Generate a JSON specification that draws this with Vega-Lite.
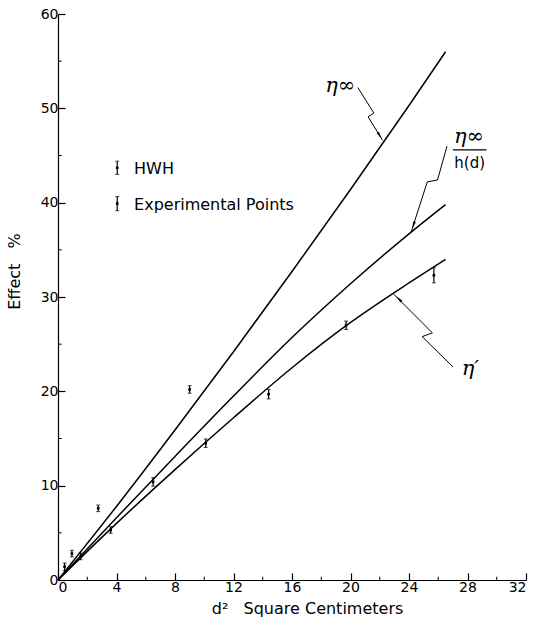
{
  "$schema": "https://vega.github.io/schema/vega-lite/v6.json",
  "width": 468,
  "height": 566,
  "autosize": {"type": "none"},
  "padding": {"left": 58, "top": 14, "right": 9, "bottom": 42},
  "background": "white",
  "config": {
    "view": {"stroke": null},
    "font": "DejaVu Sans",
    "axis": {
      "domainColor": "black",
      "domainWidth": 1.2,
      "tickColor": "black",
      "tickWidth": 1.2,
      "tickSize": -7,
      "labelColor": "black",
      "labelFont": "DejaVu Sans",
      "labelFontSize": 14,
      "titleColor": "black",
      "titleFont": "DejaVu Sans",
      "titleFontSize": 16,
      "titleFontWeight": "normal",
      "grid": false
    }
  },
  "datasets": {
    "curves": [
      {"curve": "eta_inf", "d2": 0, "effect": 0},
      {"curve": "eta_inf", "d2": 4, "effect": 7.8},
      {"curve": "eta_inf", "d2": 8, "effect": 15.9},
      {"curve": "eta_inf", "d2": 12, "effect": 24.2},
      {"curve": "eta_inf", "d2": 16, "effect": 32.7},
      {"curve": "eta_inf", "d2": 20, "effect": 41.4},
      {"curve": "eta_inf", "d2": 24, "effect": 50.3},
      {"curve": "eta_inf", "d2": 26.5, "effect": 56.0},
      {"curve": "eta_h", "d2": 0, "effect": 0},
      {"curve": "eta_h", "d2": 4, "effect": 6.6},
      {"curve": "eta_h", "d2": 8, "effect": 13.1},
      {"curve": "eta_h", "d2": 12, "effect": 19.5},
      {"curve": "eta_h", "d2": 16, "effect": 25.7},
      {"curve": "eta_h", "d2": 20, "effect": 31.4},
      {"curve": "eta_h", "d2": 24, "effect": 36.7},
      {"curve": "eta_h", "d2": 26.5, "effect": 39.8},
      {"curve": "eta_p", "d2": 0, "effect": 0},
      {"curve": "eta_p", "d2": 4, "effect": 6.0},
      {"curve": "eta_p", "d2": 8, "effect": 11.7},
      {"curve": "eta_p", "d2": 12, "effect": 17.2},
      {"curve": "eta_p", "d2": 16, "effect": 22.5},
      {"curve": "eta_p", "d2": 20, "effect": 27.3},
      {"curve": "eta_p", "d2": 24, "effect": 31.5},
      {"curve": "eta_p", "d2": 26.5, "effect": 34.0}
    ],
    "points": [
      {"d2": 0.45, "effect": 1.4, "err": 0.4},
      {"d2": 0.95, "effect": 2.8, "err": 0.35},
      {"d2": 1.55, "effect": 2.5, "err": 0.35},
      {"d2": 2.75, "effect": 7.6, "err": 0.35},
      {"d2": 3.6, "effect": 5.3, "err": 0.35},
      {"d2": 6.5, "effect": 10.4, "err": 0.45},
      {"d2": 9.0, "effect": 20.2, "err": 0.4},
      {"d2": 10.1, "effect": 14.5, "err": 0.45},
      {"d2": 14.4, "effect": 19.7, "err": 0.5},
      {"d2": 19.7, "effect": 27.0, "err": 0.45},
      {"d2": 25.7, "effect": 32.3, "err": 0.8}
    ],
    "legendsym": [
      {"d2": 4.05, "effect": 43.7, "err": 0.7},
      {"d2": 4.05, "effect": 39.9, "err": 0.75}
    ],
    "legendtext": [
      {"d2": 5.2, "effect": 43.6, "label": "HWH"},
      {"d2": 5.2, "effect": 39.8, "label": "Experimental Points"}
    ],
    "arrows": [
      {"arrow": "a1", "i": 0, "d2": 20.5, "effect": 52.2},
      {"arrow": "a1", "i": 1, "d2": 21.6, "effect": 49.5},
      {"arrow": "a1", "i": 2, "d2": 21.2, "effect": 49.1},
      {"arrow": "a1", "i": 3, "d2": 22.2, "effect": 46.6},
      {"arrow": "a2", "i": 0, "d2": 26.6, "effect": 46.0},
      {"arrow": "a2", "i": 1, "d2": 25.95, "effect": 42.4},
      {"arrow": "a2", "i": 2, "d2": 25.25, "effect": 42.2},
      {"arrow": "a2", "i": 3, "d2": 24.15, "effect": 36.9},
      {"arrow": "a3", "i": 0, "d2": 22.95, "effect": 30.3},
      {"arrow": "a3", "i": 1, "d2": 25.6, "effect": 26.2},
      {"arrow": "a3", "i": 2, "d2": 24.9, "effect": 25.8},
      {"arrow": "a3", "i": 3, "d2": 27.0, "effect": 22.6}
    ],
    "minorx": [{"v": 2}, {"v": 6}, {"v": 10}, {"v": 14}, {"v": 18}, {"v": 22}, {"v": 26}, {"v": 30}],
    "minory": [{"v": 5}, {"v": 15}, {"v": 25}, {"v": 35}, {"v": 45}, {"v": 55}]
  },
  "layer": [
    {
      "data": {"name": "curves"},
      "mark": {"type": "line", "color": "black", "strokeWidth": 1.5, "interpolate": "monotone"},
      "encoding": {
        "x": {"field": "d2", "type": "quantitative", "scale": {"domain": [0, 32], "nice": false}, "title": "d²\u00a0\u00a0\u00a0Square Centimeters",
          "axis": {"values": [0, 4, 8, 12, 16, 20, 24, 28, 32], "labelPadding": 7, "titleX": 249, "titlePadding": 6}},
        "y": {"field": "effect", "type": "quantitative", "scale": {"domain": [0, 60], "nice": false}, "title": "Effect\u00a0\u00a0\u00a0%",
          "axis": {"values": [0, 10, 20, 30, 40, 50, 60], "labelPadding": 7, "titleY": 257, "titleX": -36}},
        "detail": {"field": "curve"}
      }
    },
    {
      "data": {"name": "minorx"},
      "mark": {"type": "rule", "color": "black", "strokeWidth": 1},
      "encoding": {
        "x": {"field": "v", "type": "quantitative", "title": "d²\u00a0\u00a0\u00a0Square Centimeters"},
        "y": {"datum": 0, "title": "Effect\u00a0\u00a0\u00a0%"},
        "y2": {"datum": 0.35}
      }
    },
    {
      "data": {"name": "minory"},
      "mark": {"type": "rule", "color": "black", "strokeWidth": 1},
      "encoding": {
        "y": {"field": "v", "type": "quantitative", "title": "Effect\u00a0\u00a0\u00a0%"},
        "x": {"datum": 0, "title": "d²\u00a0\u00a0\u00a0Square Centimeters"},
        "x2": {"datum": 0.25}
      }
    },
    {
      "data": {"name": "points"},
      "mark": {"type": "errorbar", "ticks": {"size": 4, "color": "black", "strokeWidth": 1}, "rule": {"color": "black", "strokeWidth": 1.2}},
      "encoding": {
        "x": {"field": "d2", "type": "quantitative", "title": "d²\u00a0\u00a0\u00a0Square Centimeters"},
        "y": {"field": "effect", "type": "quantitative", "title": "Effect\u00a0\u00a0\u00a0%"},
        "yError": {"field": "err"}
      }
    },
    {
      "data": {"name": "points"},
      "mark": {"type": "square", "color": "black", "size": 7, "opacity": 1},
      "encoding": {
        "x": {"field": "d2", "type": "quantitative", "title": "d²\u00a0\u00a0\u00a0Square Centimeters"},
        "y": {"field": "effect", "type": "quantitative", "title": "Effect\u00a0\u00a0\u00a0%"}
      }
    },
    {
      "data": {"name": "legendsym"},
      "mark": {"type": "errorbar", "ticks": {"size": 4, "color": "black", "strokeWidth": 1}, "rule": {"color": "black", "strokeWidth": 1.2}},
      "encoding": {
        "x": {"field": "d2", "type": "quantitative", "title": "d²\u00a0\u00a0\u00a0Square Centimeters"},
        "y": {"field": "effect", "type": "quantitative", "title": "Effect\u00a0\u00a0\u00a0%"},
        "yError": {"field": "err"}
      }
    },
    {
      "data": {"name": "legendsym"},
      "mark": {"type": "square", "color": "black", "size": 7, "opacity": 1},
      "encoding": {
        "x": {"field": "d2", "type": "quantitative", "title": "d²\u00a0\u00a0\u00a0Square Centimeters"},
        "y": {"field": "effect", "type": "quantitative", "title": "Effect\u00a0\u00a0\u00a0%"}
      }
    },
    {
      "data": {"name": "legendtext"},
      "mark": {"type": "text", "align": "left", "baseline": "middle", "font": "DejaVu Sans", "fontSize": 16, "color": "black"},
      "encoding": {
        "x": {"field": "d2", "type": "quantitative", "title": "d²\u00a0\u00a0\u00a0Square Centimeters"},
        "y": {"field": "effect", "type": "quantitative", "title": "Effect\u00a0\u00a0\u00a0%"},
        "text": {"field": "label"}
      }
    },
    {
      "data": {"name": "arrows"},
      "mark": {"type": "line", "color": "black", "strokeWidth": 1},
      "encoding": {
        "x": {"field": "d2", "type": "quantitative", "title": "d²\u00a0\u00a0\u00a0Square Centimeters"},
        "y": {"field": "effect", "type": "quantitative", "title": "Effect\u00a0\u00a0\u00a0%"},
        "detail": {"field": "arrow"},
        "order": {"field": "i"}
      }
    },
    {
      "data": {"values": [{"d2": 22.0, "effect": 47.1}]},
      "mark": {"type": "point", "shape": "M0,-1L0.35,1L-0.35,1Z", "filled": true, "color": "black", "size": 60, "angle": 149, "opacity": 1},
      "encoding": {"x": {"field": "d2", "type": "quantitative", "title": "d²\u00a0\u00a0\u00a0Square Centimeters"}, "y": {"field": "effect", "type": "quantitative", "title": "Effect\u00a0\u00a0\u00a0%"}}
    },
    {
      "data": {"values": [{"d2": 24.3, "effect": 37.6}]},
      "mark": {"type": "point", "shape": "M0,-1L0.35,1L-0.35,1Z", "filled": true, "color": "black", "size": 60, "angle": 198, "opacity": 1},
      "encoding": {"x": {"field": "d2", "type": "quantitative", "title": "d²\u00a0\u00a0\u00a0Square Centimeters"}, "y": {"field": "effect", "type": "quantitative", "title": "Effect\u00a0\u00a0\u00a0%"}}
    },
    {
      "data": {"values": [{"d2": 23.3, "effect": 29.8}]},
      "mark": {"type": "point", "shape": "M0,-1L0.35,1L-0.35,1Z", "filled": true, "color": "black", "size": 60, "angle": 316, "opacity": 1},
      "encoding": {"x": {"field": "d2", "type": "quantitative", "title": "d²\u00a0\u00a0\u00a0Square Centimeters"}, "y": {"field": "effect", "type": "quantitative", "title": "Effect\u00a0\u00a0\u00a0%"}}
    },
    {
      "data": {"values": [
        {"d2": 19.3, "effect": 52.4, "label": "η∞"},
        {"d2": 28.1, "effect": 47.0, "label": "η∞"},
        {"d2": 28.2, "effect": 22.4, "label": "η′"}
      ]},
      "mark": {"type": "text", "align": "center", "baseline": "middle", "font": "DejaVu Serif", "fontStyle": "italic", "fontSize": 21, "color": "black"},
      "encoding": {
        "x": {"field": "d2", "type": "quantitative", "title": "d²\u00a0\u00a0\u00a0Square Centimeters"},
        "y": {"field": "effect", "type": "quantitative", "title": "Effect\u00a0\u00a0\u00a0%"},
        "text": {"field": "label"}
      }
    },
    {
      "data": {"values": [{"d2": 27.0, "d2b": 29.3, "effect": 45.6}]},
      "mark": {"type": "rule", "color": "black", "strokeWidth": 1.3},
      "encoding": {
        "x": {"field": "d2", "type": "quantitative", "title": "d²\u00a0\u00a0\u00a0Square Centimeters"},
        "x2": {"field": "d2b"},
        "y": {"field": "effect", "type": "quantitative", "title": "Effect\u00a0\u00a0\u00a0%"}
      }
    },
    {
      "data": {"values": [{"d2": 28.15, "effect": 44.2, "label": "h(d)"}]},
      "mark": {"type": "text", "align": "center", "baseline": "middle", "font": "DejaVu Sans", "fontSize": 15, "color": "black"},
      "encoding": {
        "x": {"field": "d2", "type": "quantitative", "title": "d²\u00a0\u00a0\u00a0Square Centimeters"},
        "y": {"field": "effect", "type": "quantitative", "title": "Effect\u00a0\u00a0\u00a0%"},
        "text": {"field": "label"}
      }
    }
  ]
}
